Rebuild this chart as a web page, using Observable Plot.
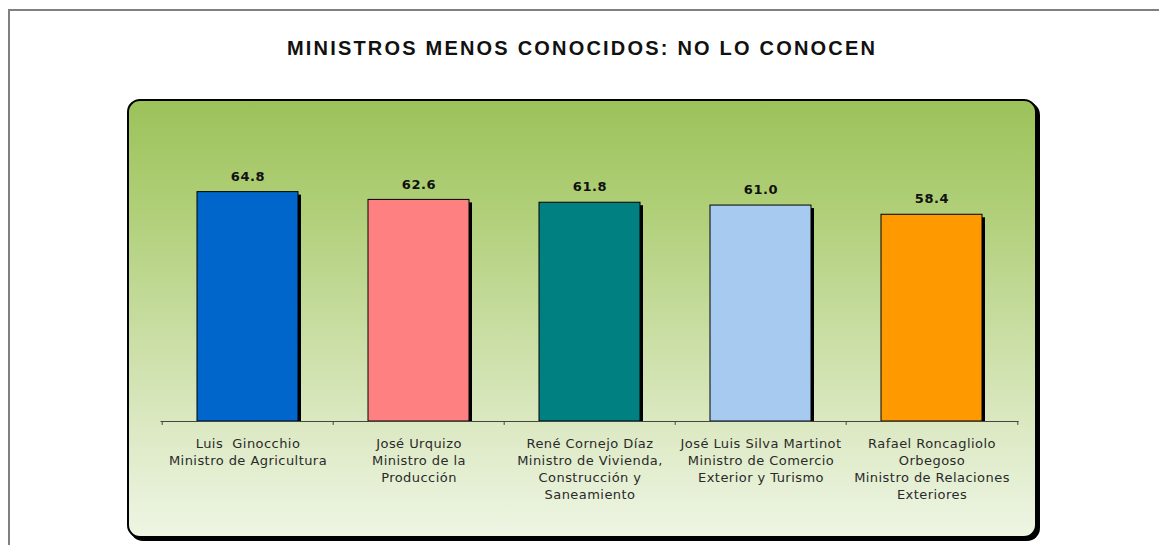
<!DOCTYPE html>
<html>
<head>
<meta charset="utf-8">
<script src="https://cdn.jsdelivr.net/npm/d3@7"></script>
<script src="https://cdn.jsdelivr.net/npm/@observablehq/plot@0.6"></script>
<style>
  html, body { margin: 0; padding: 0; background: #fff; }
  #wrap { position: relative; width: 1159px; height: 545px; overflow: hidden; }
  #frame { position: absolute; left: 8px; top: 9px; width: 1160px; height: 545px;
           border-top: 2px solid #808080; border-left: 2px solid #808080; box-sizing: border-box; }
  #shadow { position: absolute; left: 130px; top: 102px; width: 910px; height: 439px;
            border-radius: 13px; background: #000; }
  #panel { position: absolute; left: 127px; top: 99px; width: 910px; height: 439px;
           box-sizing: border-box; border: 2.5px solid #000; border-radius: 13px;
           background: linear-gradient(to bottom, #9cc25a 0%, #b0cf78 25%, #c6dc9e 50%, #dce9c3 75%, #eef5e4 100%); }
  #title { position: absolute; left: 127px; width: 910px; top: 37px; text-align: center;
           font-family: "Liberation Sans", Arial, sans-serif; font-weight: bold; font-size: 20px;
           letter-spacing: 2.2px; color: #111; }
  #chart { position: absolute; left: 0; top: 0; }
  #chart svg text { white-space: pre; }
  #chart g[font-weight="bold"] { letter-spacing: 0.6px; }
  #chart g[fill="#2a2a2a"] { letter-spacing: 0.45px; }
</style>
</head>
<body>
<div id="wrap">
  <div id="frame"></div>
  <div id="shadow"></div>
  <div id="panel"></div>
  <div id="title">MINISTROS MENOS CONOCIDOS: NO LO CONOCEN</div>
  <div id="chart"></div>
</div>
<script>
const labels = [
  "Luis  Ginocchio\nMinistro de Agricultura",
  "José Urquizo\nMinistro de la\nProducción",
  "René Cornejo Díaz\nMinistro de Vivienda,\nConstrucción y\nSaneamiento",
  "José Luis Silva Martinot\nMinistro de Comercio\nExterior y Turismo",
  "Rafael Roncagliolo\nOrbegoso\nMinistro de Relaciones\nExteriores"
];
const values = [64.8, 62.6, 61.8, 61.0, 58.4];
const colors = ["#0066CC", "#FF8080", "#008080", "#A6CAF0", "#FF9900"];

const data = labels.map((label, i) => ({label, value: values[i]}));

const W = 1159, H = 545;
const mL = 160.5, mR = 140.5, mB = 124, mT = 173.2;
const step = (W - mL - mR) / labels.length;

const plot = Plot.plot({
  width: W,
  height: H,
  marginLeft: mL,
  marginRight: mR,
  marginBottom: mB,
  marginTop: mT,
  style: {background: "transparent", fontFamily: "'DejaVu Sans', Verdana, sans-serif", overflow: "visible"},
  x: {domain: labels, paddingInner: 0.41, paddingOuter: 0.205, axis: null},
  y: {domain: [0, 70], axis: null},
  color: {domain: labels, range: colors},
  marks: [
    Plot.barY(data, {x: "label", y: "value", fill: "#000", dx: 3, dy: 3, insetBottom: 3}),
    Plot.barY(data, {x: "label", y: "value", fill: "label", stroke: "#000", strokeWidth: 1}),
    Plot.ruleY([0], {stroke: "#444", strokeWidth: 1}),
    Plot.ruleX(labels, {x: d => d, y1: 0, y2: -1.1, dx: -step / 2, stroke: "#444"}),
    Plot.ruleX([labels[labels.length - 1]], {x: d => d, y1: 0, y2: -1.1, dx: step / 2, stroke: "#444"}),
    Plot.text(data, {x: "label", y: "value", text: d => d.value.toFixed(1), lineAnchor: "middle", dy: -15.5,
      fontSize: 13, fontWeight: "bold", fill: "#111"}),
    Plot.text(data, {x: "label", y: 0, text: "label", lineAnchor: "top", dy: 14, fontSize: 13,
      lineHeight: 1.31, fill: "#2a2a2a"})
  ]
});
document.getElementById("chart").appendChild(plot);
</script>
</body>
</html>
